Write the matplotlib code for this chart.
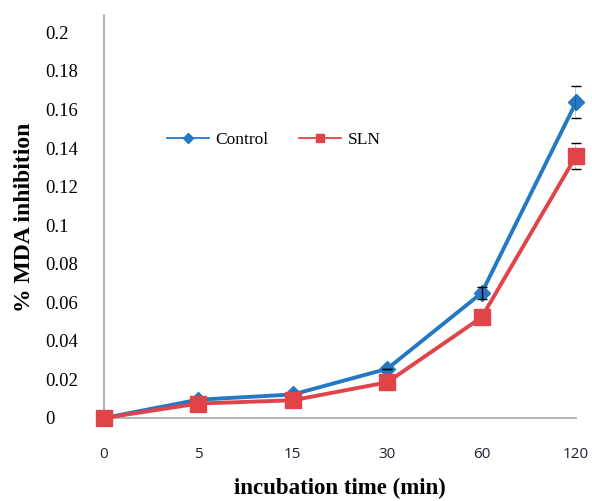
import matplotlib.pyplot as plt
from matplotlib.lines import Line2D

times = ["0", "5", "15", "30", "60", "120"]
control = [0.0, 0.0095, 0.0122, 0.0255, 0.0648, 0.1637]
control_err = [0, 0, 0, 0, 0.003, 0.0083]
sln = [0.0, 0.0075, 0.0092, 0.0185, 0.0522, 0.1358]
sln_err = [0, 0, 0, 0, 0.001, 0.0067]

BLUE = "#2478c4"
RED = "#e04448"
GRAY = "#a6a6a6"

fig = plt.figure(figsize=(5.92, 5.01), dpi=100)
ax = fig.add_axes([104 / 592, 1 - 418 / 501, (576 - 104) / 592, (418 - 15) / 501])

x = list(range(len(times)))
ax.errorbar(x, control, yerr=control_err, fmt="none", ecolor="black",
            elinewidth=1, capsize=3.5, capthick=1, zorder=4)
ax.errorbar(x, sln, yerr=sln_err, fmt="none", ecolor="black",
            elinewidth=1, capsize=3.5, capthick=1, zorder=4)
ax.plot(x, control, color=BLUE, lw=2.8, marker="D", ms=8, zorder=3)
ax.plot(x, sln, color=RED, lw=2.8, marker="s", ms=11, zorder=5)

ax.set_xlim(0, len(times) - 1)
ax.set_ylim(0, 0.209)
ax.set_yticks([i * 0.02 for i in range(11)])
ax.set_yticklabels(["0", "0.02", "0.04", "0.06", "0.08", "0.1", "0.12",
                    "0.14", "0.16", "0.18", "0.2"],
                   fontfamily="Liberation Serif", fontsize=13.5, ha="left")
ax.set_xticks(x)
ax.set_xticklabels(times, fontfamily="Open Sans", fontsize=11, color="#202030")
ax.tick_params(axis="y", length=0, pad=42.5)
ax.tick_params(axis="x", length=0, pad=21)
for s in ["top", "right"]:
    ax.spines[s].set_visible(False)
for s in ["left", "bottom"]:
    ax.spines[s].set_color(GRAY)
    ax.spines[s].set_linewidth(1.2)
    ax.spines[s].set_clip_on(False)
for line in ax.lines:
    line.set_clip_on(False)

fig.text(340 / 592, 1 - 488 / 501, "incubation time (min)", ha="center", va="center",
         fontfamily="Liberation Serif", fontweight="bold", fontsize=16.5)
fig.text(25 / 592, 1 - 217 / 501, "% MDA inhibition", ha="center", va="center",
         rotation=90, fontfamily="Liberation Serif", fontweight="bold", fontsize=17)

handles = [Line2D([], [], color=BLUE, lw=1.3, marker="D", ms=5),
           Line2D([], [], color=RED, lw=1.3, marker="s", ms=6)]
fig.legend(handles, ["Control", "SLN"], loc="center", ncol=2, frameon=False,
           bbox_to_anchor=(274 / 592, 1 - 140 / 501), handlelength=2.4,
           columnspacing=1.75, handletextpad=0.4,
           prop={"family": "Liberation Serif", "size": 12.5})

fig.savefig("out.png", dpi=100)
